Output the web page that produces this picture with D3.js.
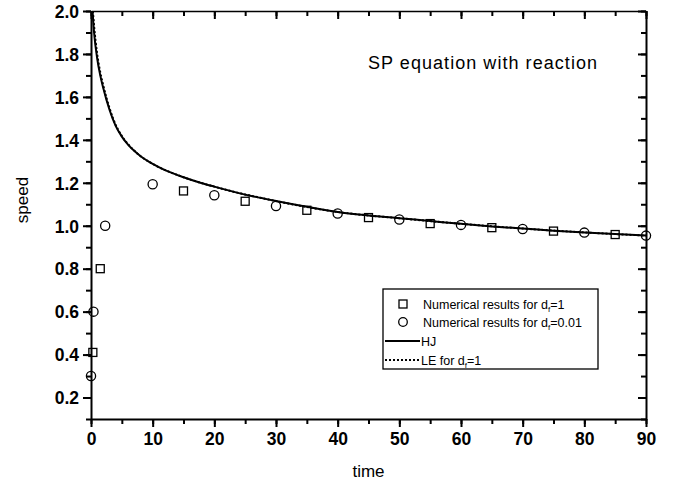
<!DOCTYPE html>
<html>
<head>
<meta charset="utf-8">
<script src="https://cdn.jsdelivr.net/npm/d3@7"></script>
<style>
  body { margin: 0; background: #fff; }
  svg { display: block; }
  .tick text { font-family: "Liberation Sans", Arial, sans-serif; font-weight: bold; font-size: 17.5px; fill: #000; }
</style>
</head>
<body>
<div id="chart"></div>
<script>
// numerical results, d_f = 1 (squares)
var sqTime  = [0.3, 1.5, 15, 25, 35, 45, 55, 65, 75, 85];
var sqSpeed = [0.41, 0.80, 1.162, 1.114, 1.072, 1.038, 1.010, 0.991, 0.975, 0.959];

// numerical results, d_f = 0.01 (circles)
var ciTime  = [0.0, 0.4, 2.3, 10, 20, 30, 40, 50, 60, 70, 80, 90];
var ciSpeed = [0.30, 0.60, 1.00, 1.193, 1.142, 1.092, 1.057, 1.029, 1.004, 0.985, 0.968, 0.954];

// HJ curve (solid)
var hjTime  = [0.25, 0.5, 1, 1.5, 2, 3, 4, 5, 6, 7, 8, 9, 10, 12, 15, 18, 20, 25, 30, 35, 40, 45, 50, 55, 60, 65, 70, 75, 80, 85, 90];
var hjSpeed = [2.0, 1.90, 1.78, 1.70, 1.64, 1.54, 1.465, 1.415, 1.378, 1.349, 1.325, 1.305, 1.288, 1.259, 1.226, 1.198, 1.182, 1.145, 1.115, 1.088, 1.064, 1.048, 1.035, 1.022, 1.009, 0.997, 0.987, 0.977, 0.969, 0.961, 0.954];

// LE for d_f = 1 (dotted), a hair above HJ at small times
var leTime  = [0.3, 0.5, 1, 1.5, 2, 3, 4, 5, 6, 7, 8, 10, 15, 20, 30, 40, 50, 60, 70, 80, 90];
var leSpeed = [2.0, 1.93, 1.80, 1.715, 1.652, 1.548, 1.47, 1.418, 1.38, 1.35, 1.325, 1.288, 1.226, 1.182, 1.115, 1.064, 1.035, 1.009, 0.987, 0.969, 0.954];

var xTicks = d3.range(0, 91, 10);
var xMinor = d3.range(0, 91, 5);
var yTicks = d3.range(2, 21, 2).map(function(d){ return d / 10; });
var yMinor = d3.range(1, 21, 1).map(function(d){ return d / 10; });

var width = 673, height = 485;
var pl = 91, pr = 646, pt = 11, pb = 419;

var svg = d3.select('#chart').append('svg')
  .attr('width', width)
  .attr('height', height);

var x = d3.scaleLinear().domain([0, 90]).range([pl, pr]);
var y = d3.scaleLinear().domain([0.1, 2.0]).range([pb, pt]);

var font = '"Liberation Sans", Arial, sans-serif';

// clip for the curves
svg.append('clipPath').attr('id', 'plot')
  .append('rect').attr('x', pl).attr('y', pt)
  .attr('width', pr - pl).attr('height', pb - pt);

function zip(ts, vs) { return ts.map(function(t, i){ return [t, vs[i]]; }); }

var line = d3.line()
  .x(function(d){ return x(d[0]); })
  .y(function(d){ return y(d[1]); })
  .curve(d3.curveMonotoneX);

var curves = svg.append('g').attr('clip-path', 'url(#plot)');

curves.append('path')
  .datum(zip(leTime, leSpeed))
  .attr('d', line)
  .attr('fill', 'none')
  .attr('stroke', '#000')
  .attr('stroke-width', 2)
  .attr('stroke-dasharray', '2,2');

curves.append('path')
  .datum(zip(hjTime, hjSpeed))
  .attr('d', line)
  .attr('fill', 'none')
  .attr('stroke', '#000')
  .attr('stroke-width', 2);

// markers
svg.append('g').selectAll('rect')
  .data(zip(sqTime, sqSpeed))
  .enter().append('rect')
  .attr('x', function(d){ return x(d[0]) - 4; })
  .attr('y', function(d){ return y(d[1]) - 4; })
  .attr('width', 8).attr('height', 8)
  .attr('fill', 'none')
  .attr('stroke', '#000')
  .attr('stroke-width', 1.3);

svg.append('g').selectAll('circle')
  .data(zip(ciTime, ciSpeed))
  .enter().append('circle')
  .attr('cx', function(d){ return x(d[0]); })
  .attr('cy', function(d){ return y(d[1]); })
  .attr('r', 4.6)
  .attr('fill', 'none')
  .attr('stroke', '#000')
  .attr('stroke-width', 1.3);

// axes: main ones with ticks outside, mirrored ones with ticks inside
function drawAxis(axisFn, scale, major, minor, transform, showLabels, fmt) {
  var gMin = svg.append('g').attr('transform', transform)
    .call(axisFn(scale).tickValues(minor).tickSize(5).tickFormat(''));
  gMin.select('.domain').remove();
  var g = svg.append('g').attr('transform', transform)
    .call(axisFn(scale).tickValues(major).tickSize(8).tickSizeOuter(0)
      .tickFormat(showLabels ? fmt : ''));
  g.selectAll('.tick line').attr('stroke-width', 2);
  gMin.selectAll('.tick line').attr('stroke-width', 2);
  return g;
}

var gx = drawAxis(d3.axisBottom, x, xTicks, xMinor, 'translate(0,' + pb + ')', true, d3.format('d'));
gx.selectAll('.tick text').attr('dy', '0.95em').attr('y', 9);
gx.select('.domain').attr('stroke-width', 2);

var gy = drawAxis(d3.axisLeft, y, yTicks, yMinor, 'translate(' + pl + ',0)', true, d3.format('.1f'));
gy.selectAll('.tick text').attr('x', -12).attr('dy', '0.36em');
gy.select('.domain').attr('stroke-width', 2);

// mirrored axes, ticks pointing inward
var gt = drawAxis(d3.axisBottom, x, xTicks, xMinor, 'translate(0,' + pt + ')', false);
gt.select('.domain').attr('stroke-width', 1.5);

var gr = drawAxis(d3.axisLeft, y, yTicks, yMinor, 'translate(' + pr + ',0)', false);
gr.select('.domain').attr('stroke-width', 2);

// axis titles
svg.append('text')
  .attr('x', (pl + pr) / 2).attr('y', 477)
  .attr('text-anchor', 'middle')
  .attr('font-family', font).attr('font-size', 17)
  .text('time');

svg.append('text')
  .attr('transform', 'translate(28,' + 200 + ') rotate(-90)')
  .attr('text-anchor', 'middle')
  .attr('font-family', font).attr('font-size', 17)
  .text('speed');

// annotation
svg.append('text')
  .attr('x', 368).attr('y', 69)
  .attr('font-family', font).attr('font-size', 18)
  .attr('textLength', 229).attr('lengthAdjust', 'spacing')
  .text('SP equation with reaction');

// legend
var lg = svg.append('g');
lg.append('rect')
  .attr('x', 383).attr('y', 289)
  .attr('width', 215).attr('height', 80)
  .attr('fill', '#fff')
  .attr('stroke', '#000')
  .attr('stroke-width', 1.3);

var rows = [
  {type: 'square', pre: 'Numerical results for d', sub: 'f', post: '=1'},
  {type: 'circle', pre: 'Numerical results for d', sub: 'f', post: '=0.01'},
  {type: 'solid',  pre: 'HJ', sub: '', post: ''},
  {type: 'dotted', pre: 'LE for d', sub: 'f', post: '=1'}
];
var rowY = [304, 322, 341, 360];

rows.forEach(function(r, i) {
  var yy = rowY[i];
  if (r.type === 'square') {
    lg.append('rect').attr('x', 399).attr('y', yy - 4).attr('width', 8).attr('height', 8)
      .attr('fill', 'none').attr('stroke', '#000').attr('stroke-width', 1.3);
  } else if (r.type === 'circle') {
    lg.append('circle').attr('cx', 403).attr('cy', yy).attr('r', 4.3)
      .attr('fill', 'none').attr('stroke', '#000').attr('stroke-width', 1.3);
  } else {
    lg.append('line').attr('x1', 385).attr('x2', 420).attr('y1', yy).attr('y2', yy)
      .attr('stroke', '#000').attr('stroke-width', 2)
      .attr('stroke-dasharray', r.type === 'dotted' ? '2,2' : null);
  }
  var t = lg.append('text')
    .attr('x', r.type === 'square' || r.type === 'circle' ? 423 : 421)
    .attr('y', yy + 4.5)
    .attr('font-family', font).attr('font-size', 12.5);
  t.append('tspan').text(r.pre);
  if (r.sub) {
    t.append('tspan').attr('font-size', 8).attr('dy', 3).text(r.sub);
    t.append('tspan').attr('dy', -3).text(r.post);
  }
});
</script>
</body>
</html>
